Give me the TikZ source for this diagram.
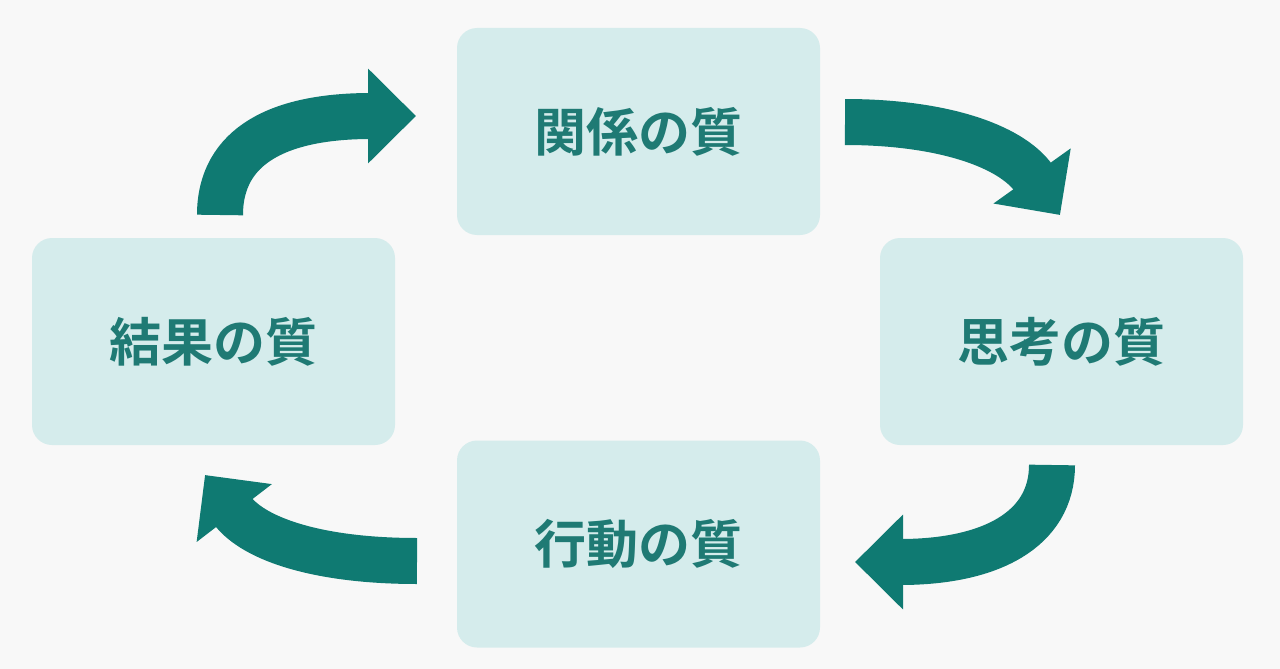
\documentclass[tikz,border=0pt]{standalone}
\usepackage{fontspec}
\newfontfamily\cjk[BoldFont={Noto Sans CJK JP Bold}]{Noto Sans CJK JP}
\usetikzlibrary{arrows.meta}
\definecolor{bg}{HTML}{F8F8F8}
\definecolor{boxc}{HTML}{D5ECEC}
\definecolor{txt}{HTML}{1F7A74}
\definecolor{arr}{HTML}{0F7A72}
\tikzset{
 qbox/.style={fill=boxc,rounded corners=20pt,minimum width=363pt,minimum height=207pt,inner sep=0pt,
   font=\cjk\bfseries\fontsize{52pt}{60pt}\selectfont,text=txt},
 cyc/.style={draw=arr,line width=46pt,-{Triangle[width=92pt,length=48pt]}}
}
\begin{document}
\begin{tikzpicture}[x=1pt,y=-1pt]
\fill[bg] (0,0) rectangle (1280,669);
\useasboundingbox (0,0) rectangle (1280,669);
\node[qbox] (top) at (638.5,131.5) {関係の質};
\node[qbox] (left) at (213.5,341.5) {結果の質};
\node[qbox] (right) at (1061.5,341.5) {思考の質};
\node[qbox] (bot) at (638.5,544) {行動の質};
\coordinate (a1) at (220,215); \coordinate (a2) at (416,116);
\coordinate (b1) at (845,122); \coordinate (b2) at (1060,215);
\coordinate (c1) at (1052,465); \coordinate (c2) at (855,562);
\coordinate (d1) at (417,561); \coordinate (d2) at (205,475);
\draw[cyc] (a1) .. controls (220,145) and (280,116) .. (a2);
\draw[cyc] (b1) .. controls (940,122) and (1010,145) .. (b2);
\draw[cyc] (c1) .. controls (1052,530) and (990,562) .. (c2);
\draw[cyc] (d1) .. controls (320,561) and (255,540) .. (d2);
\end{tikzpicture}
\end{document}
